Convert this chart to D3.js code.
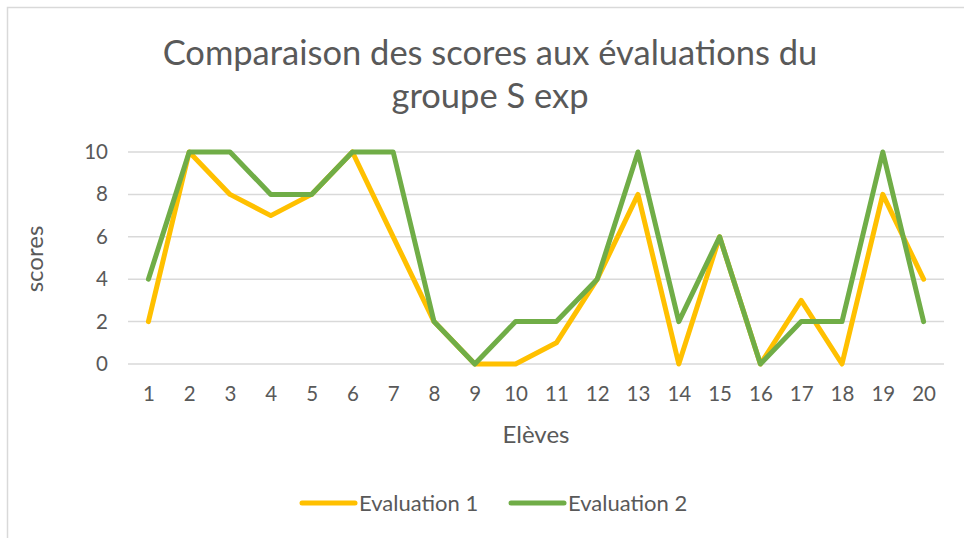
<!DOCTYPE html>
<html>
<head>
<meta charset="utf-8">
<script src="https://cdn.jsdelivr.net/npm/d3@7"></script>
<style>
  body { margin: 0; background: #fff; }
  svg text { font-family: Lato, "Open Sans", sans-serif; fill: #595959; }
</style>
</head>
<body>
<svg id="chart" width="964" height="538"></svg>
<script>
// élèves 1..20
var eleves = d3.range(1, 21);
var evaluation1 = [2, 10, 8, 7, 8, 10, 6, 2, 0, 0, 1, 4, 8, 0, 6, 0, 3, 0, 8, 4];
var evaluation2 = [4, 10, 10, 8, 8, 10, 10, 2, 0, 2, 2, 4, 10, 2, 6, 0, 2, 2, 10, 2];
var seriesNames = ['Evaluation 1', 'Evaluation 2'];
var yTicks = [0, 2, 4, 6, 8, 10];

var colors = ['#FFC000', '#70AD47'];
var svg = d3.select('#chart');

// chart frame (only top and left edges visible)
svg.append('path')
  .attr('d', 'M7.5,538 L7.5,7.5 L964,7.5')
  .attr('fill', 'none')
  .attr('stroke', '#d9d9d9')
  .attr('stroke-width', 1.5);

var x = d3.scalePoint().domain(eleves).range([128, 944]).padding(0.5);
var y = d3.scaleLinear().domain([0, 10]).range([364, 152]);

// title
var title = svg.append('text')
  .attr('text-anchor', 'middle')
  .style('font-size', '34.5px');
title.append('tspan').attr('x', 490).attr('y', 65).text('Comparaison des scores aux évaluations du');
title.append('tspan').attr('x', 490).attr('y', 108).text('groupe S exp');

// gridlines
svg.append('g')
  .selectAll('line')
  .data(yTicks)
  .join('line')
  .attr('x1', 128).attr('x2', 944)
  .attr('y1', d => y(d)).attr('y2', d => y(d))
  .attr('stroke', '#d9d9d9')
  .attr('stroke-width', 1.5);

// y axis labels
var yAxis = svg.append('g')
  .attr('transform', 'translate(114,0)')
  .call(d3.axisLeft(y).tickValues(yTicks).tickSize(0).tickPadding(6));
yAxis.select('.domain').remove();
yAxis.selectAll('text').style('font-size', '20.5px').attr('fill', '#595959');

// x axis labels
var xAxis = svg.append('g')
  .attr('transform', 'translate(0,380)')
  .call(d3.axisBottom(x).tickSize(0).tickPadding(6));
xAxis.select('.domain').remove();
xAxis.selectAll('text').style('font-size', '20.5px').attr('fill', '#595959');

// axis titles
svg.append('text')
  .attr('x', 536).attr('y', 443)
  .attr('text-anchor', 'middle')
  .style('font-size', '24px')
  .text('Elèves');

svg.append('text')
  .attr('transform', 'translate(43,259) rotate(-90)')
  .attr('text-anchor', 'middle')
  .style('font-size', '24px')
  .text('scores');

// series
var line = d3.line()
  .x((d, i) => x(eleves[i]))
  .y(d => y(d));

[evaluation1, evaluation2].forEach(function(values, k) {
  svg.append('path')
    .datum(values)
    .attr('d', line)
    .attr('fill', 'none')
    .attr('stroke', colors[k])
    .attr('stroke-width', 5)
    .attr('stroke-linejoin', 'round')
    .attr('stroke-linecap', 'round');
});

// legend
var legendX = [300, 509];
var legend = svg.append('g')
  .selectAll('g')
  .data(seriesNames)
  .join('g')
  .attr('transform', (d, i) => 'translate(' + legendX[i] + ',503)');
legend.append('line')
  .attr('x1', 2).attr('x2', 55)
  .attr('stroke', (d, i) => colors[i])
  .attr('stroke-width', 5)
  .attr('stroke-linecap', 'round');
legend.append('text')
  .attr('x', 59).attr('y', 7.5)
  .style('font-size', '22px')
  .text(d => d);
</script>
</body>
</html>
